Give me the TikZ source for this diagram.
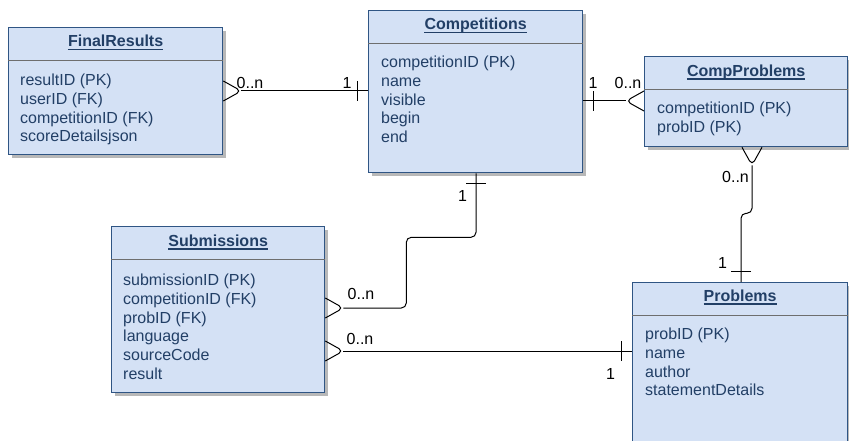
\documentclass[tikz,border=0pt]{standalone}
\usepackage{fontspec}
\setmainfont{Liberation Sans}
\usetikzlibrary{positioning,shadows}
\definecolor{boxfill}{HTML}{D4E1F5}
\definecolor{boxline}{HTML}{2F5584}
\definecolor{boxtext}{HTML}{223F66}
\definecolor{divline}{HTML}{6E6E6E}

\tikzset{
  crowfoot/.pic={\draw[rel] (0,10) -- (18,0) -- (0,-10);},
  onebar/.pic={\draw[rel] (10.5,10) -- (10.5,-10);}
}

\begin{document}
\begin{tikzpicture}[x=1pt,y=-1pt,
   entity/.style={draw=boxline,line width=1.3pt,fill=boxfill,anchor=north west,inner sep=0pt,
     drop shadow={shadow xshift=3pt,shadow yshift=-3pt,fill=black!28,opacity=1}},
   head/.style={font=\bfseries\fontsize{16}{19}\selectfont,text=boxtext,anchor=base,inner sep=0pt},
   attrs/.style={font=\fontsize{16}{18.9}\selectfont,text=boxtext,align=left,anchor=north west,inner sep=0pt},
   uline/.style={draw=boxtext,line width=1.2pt},
   divider/.style={draw=divline,line width=1.2pt},
   card/.style={font=\fontsize{16}{19}\selectfont,inner sep=0pt},
   rel/.style={line width=1pt,rounded corners=5pt}]
   \useasboundingbox (0,0) rectangle (849,441);
   \clip (0,0) rectangle (849,441);

   % tables
   \node[entity,minimum width=214pt,minimum height=127pt] (fr) at (8,27) {};
   \node[entity,minimum width=214pt,minimum height=162pt] (comp) at (368,10) {};
   \node[entity,minimum width=203pt,minimum height=90pt] (cp) at (644,56) {};
   \node[entity,minimum width=213pt,minimum height=166pt] (sub) at (111,226) {};
   \node[entity,minimum width=215pt,minimum height=175pt] (pr) at (632,282) {};

   \foreach \t in {fr,comp,cp,sub,pr}
     \draw[divider] ([yshift=-33.5pt]\t.north west) -- ([yshift=-33.5pt]\t.north east);

   \node[head] (frT) at ([yshift=-20pt]fr.north) {FinalResults};
   \node[head] (compT) at ([yshift=-20pt]comp.north) {Competitions};
   \node[head] (cpT) at ([yshift=-20.5pt]cp.north) {CompProblems};
   \node[head] (subT) at ([yshift=-20.5pt]sub.north) {Submissions};
   \node[head] (prT) at ([yshift=-19.5pt]pr.north) {Problems};
   \foreach \t in {frT,compT,cpT,subT,prT}
     \draw[uline] ([yshift=-2.5pt]\t.base west) -- ([yshift=-2.5pt]\t.base east);

   \node[attrs] (frA) at ([xshift=12pt,yshift=-46.5pt]fr.north west)
     {resultID (PK)\\userID (FK)\\competitionID (FK)\\scoreDetailsjson};
   \node[attrs] (compA) at ([xshift=13pt,yshift=-45.5pt]comp.north west)
     {competitionID (PK)\\name\\visible\\begin\\end};
   \node[attrs] (cpA) at ([xshift=13pt,yshift=-45.5pt]cp.north west)
     {competitionID (PK)\\probID (PK)};
   \node[attrs] (subA) at ([xshift=12pt,yshift=-47.5pt]sub.north west)
     {submissionID (PK)\\competitionID (FK)\\probID (FK)\\language\\sourceCode\\result};
   \node[attrs] (prA) at ([xshift=13pt,yshift=-45.5pt]pr.north west)
     {probID (PK)\\name\\author\\statementDetails};

   % relations
   \coordinate (frR) at ([yshift=-64pt]fr.north east);
   \draw[rel] ([xshift=18pt]frR) -- (frR -| comp.west);
   \pic at (frR) {crowfoot};
   \pic[rotate=180] at (frR -| comp.west) {onebar};

   \coordinate (compR) at ([yshift=-91pt]comp.north east);
   \draw[rel] (compR) -- ([xshift=-18pt]compR -| cp.west);
   \pic at (compR) {onebar};
   \pic[rotate=180] at (compR -| cp.west) {crowfoot};

   \coordinate (cpB) at ([xshift=108pt]cp.south west);
   \coordinate (prTop) at ([xshift=109pt]pr.north west);
   \draw[rel] ([yshift=-18pt]cpB) -- ++(0,48) -| (prTop);
   \pic[rotate=-90] at (cpB) {crowfoot};
   \pic[rotate=90] at (prTop) {onebar};

   \coordinate (compB) at ([xshift=108pt]comp.south west);
   \coordinate (subR) at ([yshift=-82pt]sub.north east);
   \draw[rel] (compB) -- ++(0,64) -| ([xshift=81pt]subR) -- ([xshift=18pt]subR);
   \pic[rotate=-90] at (compB) {onebar};
   \pic at (subR) {crowfoot};

   \coordinate (subR2) at ([yshift=-125pt]sub.north east);
   \draw[rel] ([xshift=18pt]subR2) -- (subR2 -| pr.west);
   \pic at (subR2) {crowfoot};
   \pic[rotate=180] at (subR2 -| pr.west) {onebar};

   % cardinalities
   \node[card] (c1) at (250,83) {0..n};
   \node[card] (c2) at (347,83) {1};
   \node[card] (c3) at (593,83) {1};
   \node[card] (c4) at (628,83) {0..n};
   \node[card] (c5) at (735.5,177) {0..n};
   \node[card] (c6) at (722.5,262.5) {1};
   \node[card] (c7) at (462.5,196) {1};
   \node[card] (c8) at (361,294) {0..n};
   \node[card] (c9) at (360,339) {0..n};
   \node[card] (c10) at (610.5,374) {1};
\end{tikzpicture}
\end{document}
